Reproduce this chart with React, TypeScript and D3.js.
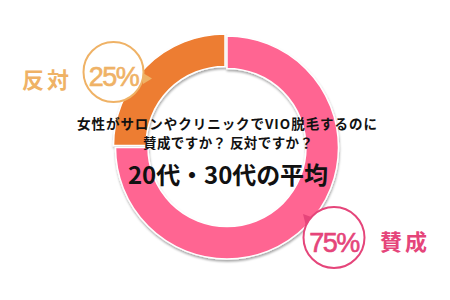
import React from "react";
import * as d3 from "d3";

const W = 450;
const H = 300;

// Survey answers (percent)
const categories = ["賛成", "反対"];
const values = [75, 25];
const sliceColors = ["#FF6592", "#ED7D31"];
const labelColors = ["#E5457A", "#EFB266"];

const questionLines = ["女性がサロンやクリニックでVIO脱毛するのに", "賛成ですか？ 反対ですか？"];
const groupTitle = "20代・30代の平均";

const FONT = "'Noto Sans CJK JP', 'Noto Sans', sans-serif";

export default function App() {
  const cx = 227;
  const cy = 147.5;
  const outerR = 111.5;
  const innerR = 79;

  const pie = d3.pie<number>().sort(null).startAngle(0).endAngle(2 * Math.PI);
  const arcs = pie(values);
  const arcGen = d3.arc<d3.PieArcDatum<number>>().innerRadius(innerR).outerRadius(outerR);

  // the smaller slice is pulled slightly outward
  const offsets = [
    [0, 0],
    [-2, -2],
  ];

  const badges = [
    { cx: 334, cy: 237.5, r: 30.5, textX: 405, textY: 240, tri: [[303, 214], [314, 218], [306, 226]] },
    { cx: 113.5, cy: 72, r: 30, textX: 47, textY: 78, tri: [[143, 73], [152, 78.5], [143, 84]] },
  ];

  return (
    <svg width={W} height={H} style={{ position: "absolute", left: 0, top: 0, background: "#fff" }}>
      <defs>
        <filter id="ringShadow" x="-20%" y="-20%" width="140%" height="140%">
          <feDropShadow dx="0.5" dy="2" stdDeviation="1.2" floodColor="#000" floodOpacity="0.35" />
        </filter>
      </defs>
      <g transform={`translate(${cx},${cy})`} filter="url(#ringShadow)">
        {arcs.map((a, i) => (
          <path
            key={categories[i]}
            d={arcGen(a) || ""}
            transform={`translate(${offsets[i][0]},${offsets[i][1]})`}
            fill={sliceColors[i]}
            stroke="#fff"
            strokeWidth={1.5}
          />
        ))}
      </g>

      {badges.map((b, i) => (
        <g key={categories[i]}>
          <polygon points={b.tri.map((p) => p.join(",")).join(" ")} fill={labelColors[i]} />
          <circle cx={b.cx} cy={b.cy} r={b.r} fill="#fff" stroke={labelColors[i]} strokeWidth={2} />
          <text
            x={b.cx}
            y={b.cy + 14}
            textAnchor="middle"
            fontFamily="'Liberation Sans', Arial, sans-serif"
            fontSize={27}
            fill={labelColors[i]}
            stroke={labelColors[i]}
            strokeWidth={0.6}
            letterSpacing={-1.5}
          >
            {`${values[i]}%`}
          </text>
          <text
            x={b.textX}
            y={b.textY}
            textAnchor="middle"
            dominantBaseline="central"
            fontFamily={FONT}
            fontWeight={700}
            fontSize={22}
            letterSpacing={3}
            fill={labelColors[i]}
          >
            {categories[i]}
          </text>
        </g>
      ))}

      <text x={227} y={129} textAnchor="middle" fontFamily={FONT} fontWeight={700} fontSize={13.5} textLength={300} lengthAdjust="spacing" fill="#111">
        {questionLines[0]}
      </text>
      <text x={228} y={148} textAnchor="middle" fontFamily={FONT} fontWeight={700} fontSize={13.5} textLength={170} lengthAdjust="spacing" fill="#111">
        {questionLines[1]}
      </text>
      <text x={228} y={184} textAnchor="middle" fontFamily={FONT} fontWeight={700} fontSize={24} textLength={200} lengthAdjust="spacing" fill="#111">
        {groupTitle}
      </text>
    </svg>
  );
}
